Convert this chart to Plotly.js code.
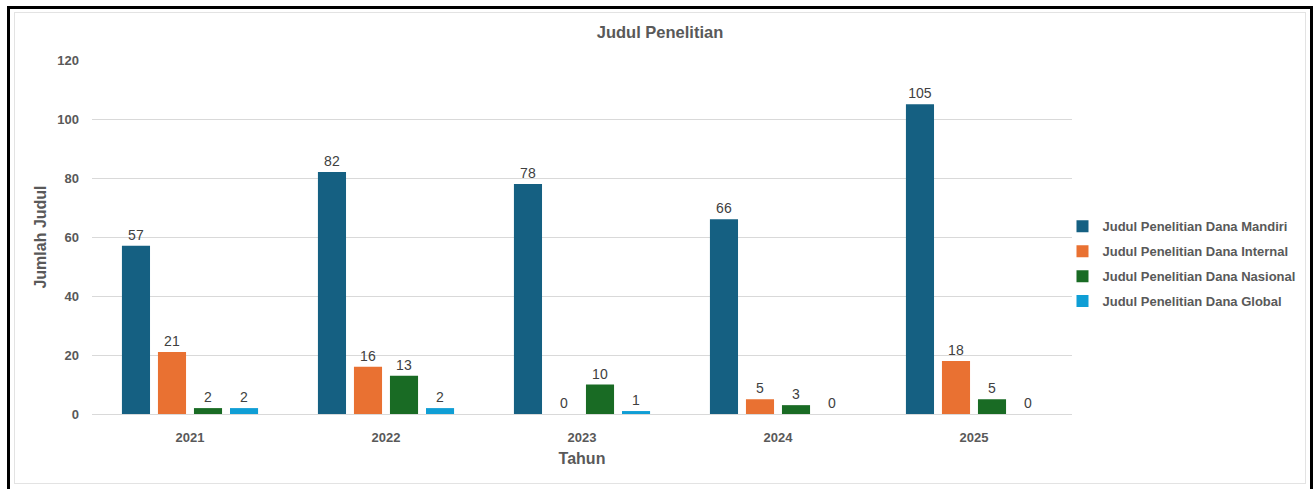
<!DOCTYPE html>
<html>
<head>
<meta charset="utf-8">
<script src="https://cdn.plot.ly/plotly-3.0.1.min.js"></script>
<style>
  html, body { margin: 0; padding: 0; background: #ffffff; }
  #wrap { position: relative; width: 1315px; height: 489px; overflow: hidden; }
  #chart { position: absolute; left: 0; top: 0; width: 1315px; height: 489px; }
  #frame { position: absolute; left: 7px; top: 6px; width: 1300px; height: 490px;
           border-left: 3px solid #000; border-top: 3px solid #000; border-right: 3px solid #000;
           pointer-events: none; }
  #inner { position: absolute; left: 14px; top: 12px; width: 1290px; height: 470px;
           border: 1px solid #e3e3e3; pointer-events: none; }
</style>
</head>
<body>
<div id="wrap">
  <div id="chart"></div>
  <div id="inner"></div>
  <div id="frame"></div>
</div>
<script>
const years = ['2021', '2022', '2023', '2024', '2025'];
const seriesNames = [
  'Judul Penelitian Dana Mandiri',
  'Judul Penelitian Dana Internal',
  'Judul Penelitian Dana Nasional',
  'Judul Penelitian Dana Global'
];
const mandiri  = [57, 82, 78, 66, 105];
const internal = [21, 16, 0, 5, 18];
const nasional = [2, 13, 10, 3, 5];
const global_  = [2, 2, 1, 0, 0];
const colors = ['#156082', '#E97132', '#196B24', '#0F9ED5'];
const yTicks = [0, 20, 40, 60, 80, 100, 120];

const allSeries = [mandiri, internal, nasional, global_];
const traces = allSeries.map((vals, i) => ({
  type: 'bar',
  name: seriesNames[i],
  x: years,
  y: vals,
  marker: { color: colors[i], line: { color: '#ffffff', width: 0 } },
  text: vals.map(String),
  textposition: 'outside',
  cliponaxis: false,
  textfont: { family: 'Liberation Sans, Arial, sans-serif', size: 14, color: '#404040' },
  legendgroup: 'g' + i,
  hoverinfo: 'x+y+name'
}));

const layout = {
  width: 1315,
  height: 489,
  margin: { l: 92, r: 243, t: 60, b: 75, autoexpand: false },
  paper_bgcolor: '#ffffff',
  plot_bgcolor: '#ffffff',
  barmode: 'group',
  bargap: 0.265,
  bargroupgap: 0.22,
  title: {
    text: '<b>Judul Penelitian</b>',
    font: { family: 'Liberation Sans, Arial, sans-serif', size: 16.5, color: '#595959' },
    x: 660 / 1315, xanchor: 'center', xref: 'container',
    y: 1 - 32 / 489, yanchor: 'middle', yref: 'container'
  },
  xaxis: {
    type: 'category',
    showgrid: false,
    zeroline: false,
    showline: false,
    ticks: '',
    ticklabelstandoff: 14,
    tickfont: { family: 'Liberation Sans, Arial, sans-serif', size: 13, color: '#595959', weight: 'bold' },
    title: {
      text: '<b>Tahun</b>',
      font: { family: 'Liberation Sans, Arial, sans-serif', size: 16, color: '#595959' },
      standoff: 8
    }
  },
  yaxis: {
    range: [0, 120],
    tickvals: yTicks,
    ticktext: yTicks.map(String),
    showgrid: true,
    gridcolor: '#d9d9d9',
    gridwidth: 1,
    zeroline: true,
    zerolinecolor: '#d9d9d9',
    zerolinewidth: 1,
    showline: false,
    ticks: '',
    ticklabelstandoff: 12,
    tickfont: { family: 'Liberation Sans, Arial, sans-serif', size: 13, color: '#595959', weight: 'bold' },
    title: {
      text: '<b>Jumlah Judul</b>',
      font: { family: 'Liberation Sans, Arial, sans-serif', size: 16, color: '#595959' },
      standoff: 6
    }
  },
  legend: {
    x: 0.9903,
    xanchor: 'left',
    y: 0.424,
    yanchor: 'middle',
    font: { family: 'Liberation Sans, Arial, sans-serif', size: 13, color: '#595959', weight: 'bold' },
    tracegroupgap: 5,
    traceorder: 'grouped',
    bgcolor: 'rgba(0,0,0,0)'
  },
  showlegend: true
};

Plotly.newPlot('chart', traces, layout, { displayModeBar: false, staticPlot: true });
</script>
</body>
</html>
